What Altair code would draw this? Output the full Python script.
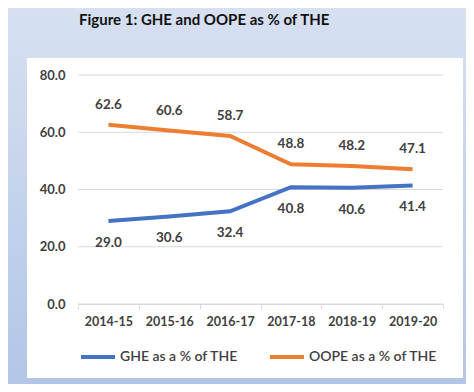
import altair as alt
import pandas as pd

years = ["2014-15", "2015-16", "2016-17", "2017-18", "2018-19", "2019-20"]
ghe = [29.0, 30.6, 32.4, 40.8, 40.6, 41.4]
oope = [62.6, 60.6, 58.7, 48.8, 48.2, 47.1]
series = ["GHE as a % of THE", "OOPE as a % of THE"]
colors = ["#4472c4", "#ed7d31"]
y_ticks = [0, 20, 40, 60, 80]
title_text = ["Figure 1: GHE and OOPE as % of THE"]

FONT = "Lato"
TXT = "#404040"

df = pd.DataFrame({
    "year": years * 2,
    "value": ghe + oope,
    "series": [series[0]] * len(years) + [series[1]] * len(years),
})
one = pd.DataFrame({"k": [0]})
grid_df = pd.DataFrame({"tick": y_ticks})
title_df = pd.DataFrame({"t": title_text})

W, H = 365, 229
PAD = {"left": 70, "top": 67, "right": 23, "bottom": 80}

bg = alt.Chart(one).mark_rect(
    color=alt.LinearGradient(
        gradient="linear",
        stops=[alt.GradientStop(offset=0, color="#d6e0f1"),
               alt.GradientStop(offset=1, color="#b3c6e7")],
        x1=0, x2=0, y1=0, y2=1,
    )
).encode(x=alt.value(-70), x2=alt.value(W + 23), y=alt.value(-67), y2=alt.value(H + 80))

panel = alt.Chart(one).mark_rect(color="white").encode(
    x=alt.value(-51), x2=alt.value(385), y=alt.value(-17), y2=alt.value(303)
)

title = alt.Chart(title_df).mark_text(
    align="left", baseline="middle", font=FONT, fontSize=15, fontWeight="bold", color="#111111"
).encode(x=alt.value(1), y=alt.value(-55), text="t:N")

yscale = alt.Scale(domain=[0, 80])
xscale = alt.Scale(type="band", domain=years, paddingInner=0, paddingOuter=0)

grid = alt.Chart(grid_df).mark_rule(color="#d9d9d9", strokeWidth=1).encode(
    y=alt.Y("tick:Q", scale=yscale),
)

xenc = alt.X("year:N", scale=xscale, bandPosition=0.5, title=None,
             axis=alt.Axis(labelAngle=0, tickBand="extent", domainColor="#d9d9d9",
                           tickColor="#d9d9d9", tickSize=5, labelPadding=6,
                           labelFont=FONT, labelFontSize=12.5, labelFontWeight="bold",
                           labelColor=TXT, zindex=1))
yenc = alt.Y("value:Q", scale=yscale, title=None,
             axis=alt.Axis(values=y_ticks, format=".1f", grid=False, domain=False, ticks=False,
                           labelPadding=13, labelFont=FONT, labelFontSize=13,
                           labelFontWeight="bold", labelColor=TXT, zindex=1))

lines = alt.Chart(df).mark_line(strokeWidth=4).encode(
    x=xenc,
    y=yenc,
    color=alt.Color("series:N", scale=alt.Scale(domain=series, range=colors),
                    legend=alt.Legend(title=None, orient="none", legendX=1, legendY=263,
                                      direction="horizontal", symbolType="stroke",
                                      symbolSize=1156, symbolStrokeWidth=4,
                                      labelFont=FONT, labelFontSize=14, labelColor=TXT,
                                      labelFontWeight=600,
                                      labelOffset=3, columnPadding=24)),
)

lab_ghe = alt.Chart(df).transform_filter(alt.datum.series == series[0]).mark_text(
    dy=22, font=FONT, fontSize=13.5, fontWeight="bold", color=TXT
).encode(x=alt.X("year:N", scale=xscale, bandPosition=0.5), y=alt.Y("value:Q", scale=yscale),
         text=alt.Text("value:Q", format=".1f"))

lab_oope = alt.Chart(df).transform_filter(alt.datum.series == series[1]).mark_text(
    dy=-20, font=FONT, fontSize=13.5, fontWeight="bold", color=TXT
).encode(x=alt.X("year:N", scale=xscale, bandPosition=0.5), y=alt.Y("value:Q", scale=yscale),
         text=alt.Text("value:Q", format=".1f"))

chart = alt.layer(bg, panel, title, grid, lines, lab_ghe, lab_oope).properties(
    width=W, height=H,
    autosize=alt.AutoSizeParams(type="none"),
    padding=PAD,
).configure_view(stroke=None).configure(background="#c5d3ec")

chart.save("out.html", embed_options={"renderer": "svg", "actions": False})
